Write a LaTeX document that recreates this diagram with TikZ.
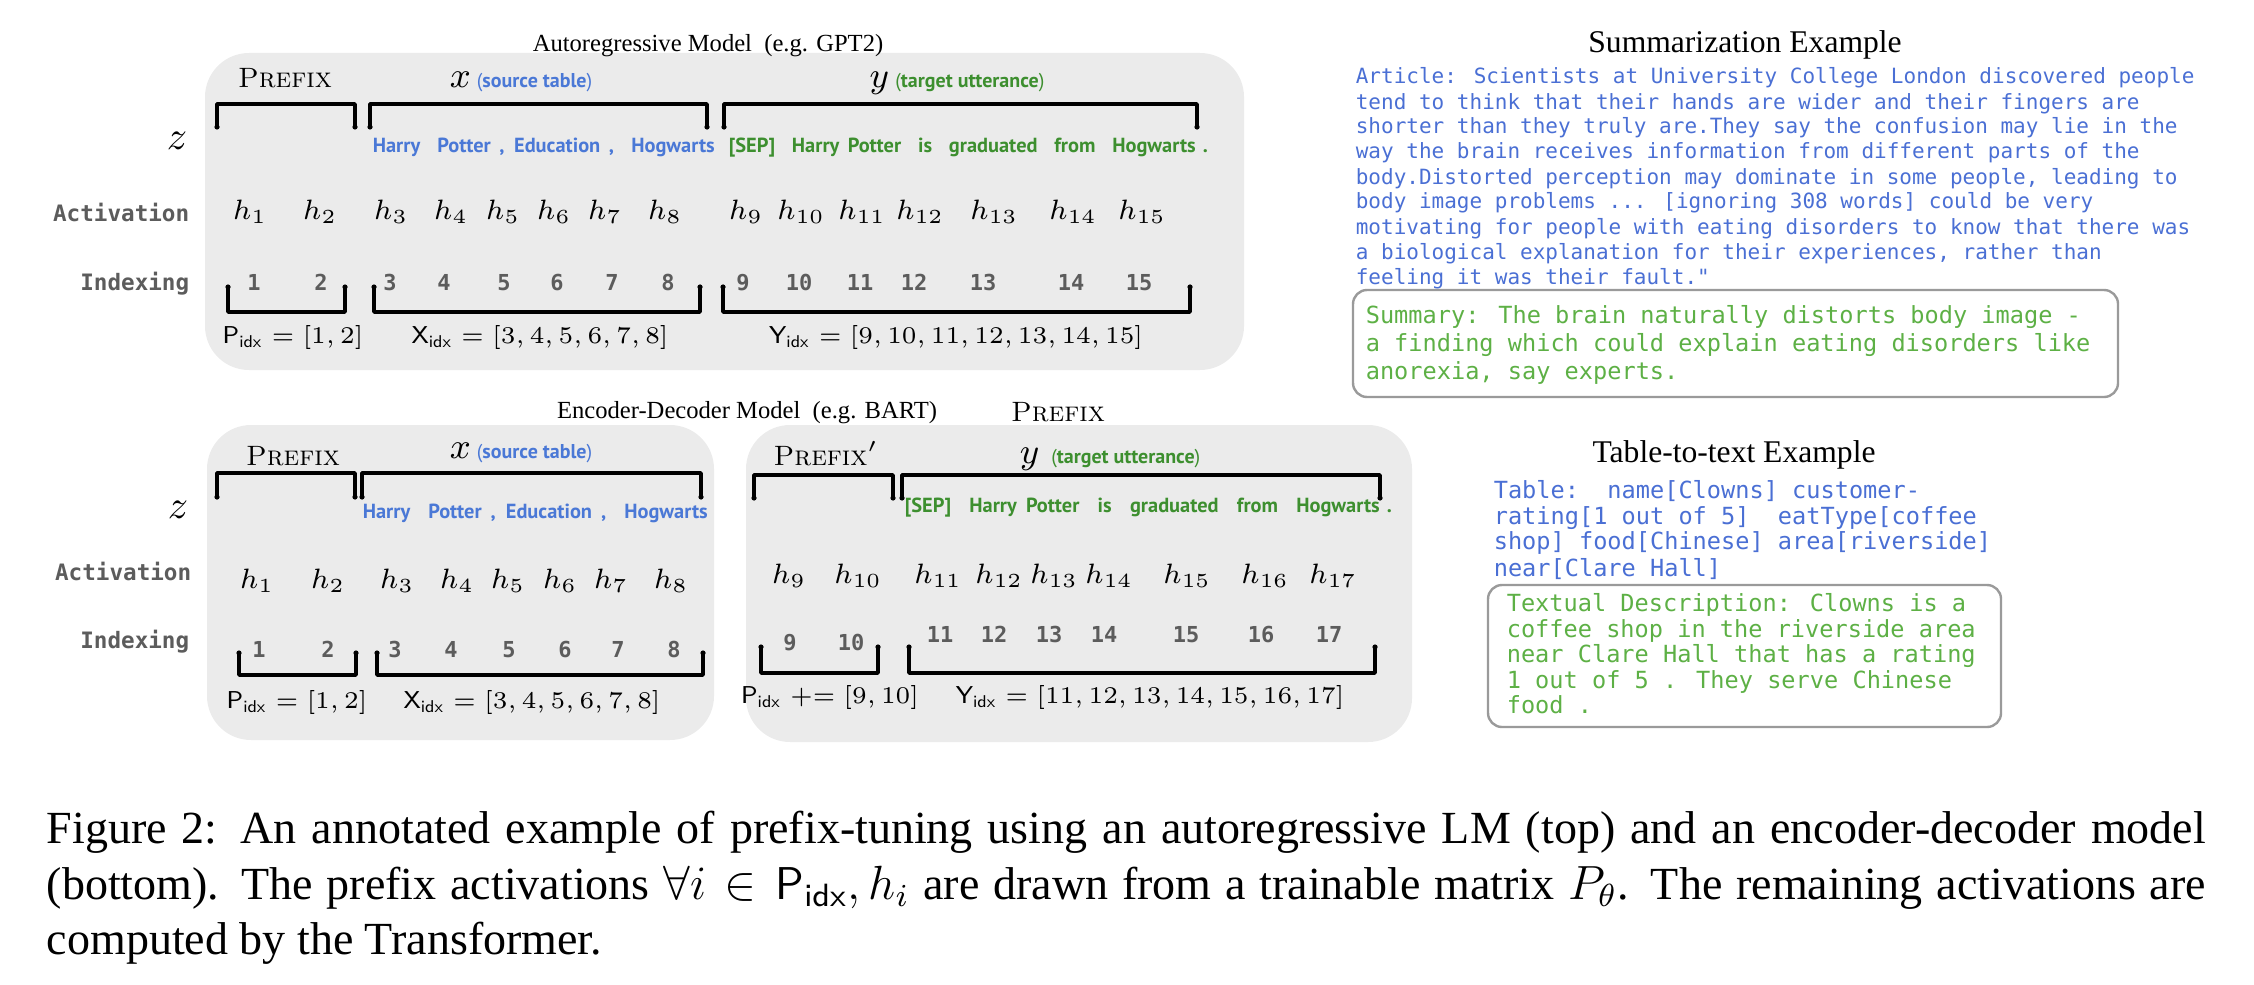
\documentclass[tikz,border=0pt]{standalone}
\usepackage{fontspec}
\newfontfamily\capfont{Liberation Serif}
\newfontfamily\exmono{DejaVu Sans Mono}
\newfontfamily\tokfont{PT Sans}
\newdimen\PX \PX=0.25pt
\definecolor{panelgray}{HTML}{EBEBEB}
\definecolor{tokblue}{HTML}{4A78D6}
\definecolor{tokgreen}{HTML}{3D8F2F}
\definecolor{exblue}{HTML}{4A6FD4}
\definecolor{exgreen}{HTML}{5DB045}
\definecolor{labgray}{HTML}{5C5C5C}
\definecolor{boxgray}{HTML}{9A9A9A}
\newcommand\annot[2]{{\tokfont\fontsize{5}{6}\selectfont\color{#2}(\textbf{#1})}}
\newcommand\brkdown[4]{\draw[brk] (#1,#4) -- (#1,#3) -- (#2,#3) -- (#2,#4);
  \fill (#1,#4) circle[radius=0.65pt] (#2,#4) circle[radius=0.65pt];}
\newcommand\brkup[4]{\draw[brk] (#1,#3) -- (#1,#4) -- (#2,#4) -- (#2,#3);
  \fill (#1,#3) circle[radius=0.65pt] (#2,#3) circle[radius=0.65pt];}
\begin{document}
\begin{tikzpicture}[x=0.25pt,y=-0.25pt,
  panel/.style={fill=panelgray,draw=none,rounded corners=11pt},
  brk/.style={line width=0.9pt,line cap=round,line join=round},
  title/.style={anchor=base,inner sep=0pt,font=\capfont\fontsize{6.15}{7}\selectfont},
  extitle/.style={anchor=base,inner sep=0pt,font=\capfont\fontsize{7.9}{9}\selectfont},
  pfx/.style={anchor=base,inner sep=0pt,font=\fontsize{7}{8}\selectfont},
  seglab/.style={anchor=base,inner sep=0pt,font=\fontsize{9.25}{10}\selectfont},
  zlab/.style={anchor=base,inner sep=0pt,font=\fontsize{10}{12}\selectfont},
  rowlab/.style={anchor=base east,inner sep=0pt,text=labgray,font=\exmono\bfseries\fontsize{5.65}{6}\selectfont},
  hnode/.style={anchor=base,inner sep=0pt,font=\fontsize{7}{8}\selectfont},
  idx/.style={anchor=base,inner sep=0pt,text=labgray,font=\exmono\bfseries\fontsize{5.5}{6}\selectfont},
  idxlab/.style={anchor=base,inner sep=0pt,font=\fontsize{6.1}{7}\selectfont},
  tokx/.style={anchor=base west,inner sep=0pt,text=tokblue,font=\tokfont\bfseries\fontsize{5.1}{6}\selectfont},
  toky/.style={tokx,text=tokgreen},
  exline/.style={anchor=base west,inner sep=0pt,text=exblue,font=\exmono\fontsize{5.25}{6}\selectfont},
  exline2/.style={anchor=base west,inner sep=0pt,text=exblue,font=\exmono\fontsize{5.9}{7}\selectfont},
  exout/.style={exline2,text=exgreen},
  exbox/.style={draw=boxgray,line width=0.6pt,rounded corners=3.5pt},
  captext/.style={anchor=base west,inner sep=0pt,font=\capfont\fontsize{11.5}{14}\selectfont}
]
\useasboundingbox (0,0) rectangle (2254,984);

% ---------- panels ----------
\path[panel] (205,53) rectangle (1244,370);
\path[panel] (207,425) rectangle (714,740);
\path[panel] (746,425) rectangle (1412,742);

% ---------- top: autoregressive ----------
\node[title] (titA) at (708,52) {Autoregressive Model\ \ (e.g. GPT2)};
\node[pfx] (pfxA) at (285,88) {\textsc{Prefix}};
\node[seglab] (xlabA) at (521,88) {$x$\,\annot{source table}{tokblue}};
\node[seglab] (ylabA) at (957,88) {$y$\,\annot{target utterance}{tokgreen}};
\brkdown{217}{355}{104}{127}
\brkdown{370}{707}{104}{127}
\brkdown{724}{1197}{104}{127}
\node[zlab] (zA) at (177,150) {$z$};
\node[tokx] (tokxA) at (372,152) {\makebox[342\PX][s]{Harry\ \ Potter , Education ,\ \ Hogwarts}};
\node[toky] (tokyA) at (728,152) {\makebox[467\PX][s]{[SEP]\ \ Harry Potter\ \ is\ \ graduated\ \ from\ \ Hogwarts}};
\node[toky] (dotA) at (1202,152) {.};
\node[rowlab] (actA) at (190,222) {Activation};
\node[rowlab] (indA) at (190,290) {Indexing};
\foreach \i/\x in {1/250,2/320,3/391,4/451,5/503,6/554,7/605,8/665,9/746,10/801,11/862,12/920,13/994,14/1073,15/1142}
  \node[hnode] (hA\i) at (\x,220) {$h_{\i}$};
\foreach \i/\x in {1/254,2/321,3/390,4/444,5/504,6/557,7/612,8/668,9/743,10/799,11/860,12/914,13/983,14/1071,15/1139}
  \node[idx] (iA\i) at (\x,290) {\i};
\brkup{228}{345}{287}{312}
\brkup{374}{700}{287}{312}
\brkup{723}{1190}{287}{312}
\node[idxlab] (pA) at (293,343) {$\mathsf{P}_{\mathsf{idx}}=[1,2]$};
\node[idxlab] (xA) at (540,343) {$\mathsf{X}_{\mathsf{idx}}=[3,4,5,6,7,8]$};
\node[idxlab] (yA) at (956,343) {$\mathsf{Y}_{\mathsf{idx}}=[9,10,11,12,13,14,15]$};

% ---------- bottom: encoder-decoder ----------
\node[title] (titB) at (747,418) {Encoder-Decoder Model\ \ (e.g. BART)};
\node[pfx] (pfxC) at (1058,421) {\textsc{Prefix}};
\node[pfx] (pfxB) at (293,465) {\textsc{Prefix}};
\node[pfx] (pfxD) at (826,465) {\textsc{Prefix}$'$};
\node[seglab] (xlabB) at (521,458) {$x$\,\annot{source table}{tokblue}};
\node[seglab] (ylabB) at (1110,463) {$y$\hspace{3pt}\annot{target utterance}{tokgreen}};
\brkdown{217}{355}{473}{497}
\brkdown{362}{701}{473}{497}
\brkdown{754}{893}{475}{498}
\brkdown{902}{1380}{475}{498}
\node[zlab] (zB) at (178,518) {$z$};
\node[tokx] (tokxB) at (362,518) {\makebox[345\PX][s]{Harry\ \ Potter , Education ,\ \ Hogwarts}};
\node[toky] (tokyB) at (904,512) {\makebox[475\PX][s]{[SEP]\ \ Harry Potter\ \ is\ \ graduated\ \ from\ \ Hogwarts}};
\node[toky] (dotB) at (1386,512) {.};
\node[rowlab] (actB) at (192,580) {Activation};
\node[rowlab] (indB) at (190,648) {Indexing};
\foreach \i/\x in {1/257,2/328,3/397,4/457,5/508,6/560,7/611,8/671}
  \node[hnode] (hB\i) at (\x,588) {$h_{\i}$};
\foreach \i/\x in {9/789,10/858,11/938,12/999,13/1054,14/1109,15/1187,16/1265,17/1333}
  \node[hnode] (hC\i) at (\x,583) {$h_{\i}$};
\foreach \i/\x in {1/259,2/328,3/395,4/451,5/509,6/565,7/618,8/674}
  \node[idx] (iB\i) at (\x,657) {\i};
\foreach \i/\x in {9/790,10/851}
  \node[idx] (iC\i) at (\x,650) {\i};
\foreach \i/\x in {11/940,12/994,13/1049,14/1104,15/1186,16/1261,17/1329}
  \node[idx] (iC\i) at (\x,642) {\i};
\brkup{239}{356}{653}{675}
\brkup{377}{703}{653}{675}
\brkup{761}{878}{647}{673}
\brkup{909}{1375}{647}{673}
\node[idxlab] (pB) at (297,708) {$\mathsf{P}_{\mathsf{idx}}=[1,2]$};
\node[idxlab] (xB) at (532,708) {$\mathsf{X}_{\mathsf{idx}}=[3,4,5,6,7,8]$};
\node[idxlab] (pC) at (830,703) {$\mathsf{P}_{\mathsf{idx}}\mathrel{+}=[9,10]$};
\node[idxlab] (yC) at (1150,703) {$\mathsf{Y}_{\mathsf{idx}}=[11,12,13,14,15,16,17]$};

% ---------- summarization example ----------
\node[extitle] (titS) at (1745,53) {Summarization Example};
\node[exline] (a1) at (1355,84) {Article: Scientists at University College London discovered people};
\node[exline] (a2) at (1355,109) {tend to think that their hands are wider and their fingers are};
\node[exline] (a3) at (1355,134) {shorter than they truly are.They say the confusion may lie in the};
\node[exline] (a4) at (1355,159) {way the brain receives information from different parts of the};
\node[exline] (a5) at (1355,184) {body.Distorted perception may dominate in some people, leading to};
\node[exline] (a6) at (1355,209) {body image problems ... [ignoring 308 words] could be very};
\node[exline] (a7) at (1355,234) {motivating for people with eating disorders to know that there was};
\node[exline] (a8) at (1355,259) {a biological explanation for their experiences, rather than};
\node[exline] (a9) at (1355,284) {feeling it was their fault."};
\draw[exbox] (1353,290) rectangle (2118,397);
\node[exout] (s1) at (1365,323) {Summary: The brain naturally distorts body image -};
\node[exout] (s2) at (1365,351) {a finding which could explain eating disorders like};
\node[exout] (s3) at (1365,379) {anorexia, say experts.};

% ---------- table-to-text example ----------
\node[extitle] (titT) at (1734,462) {Table-to-text Example};
\node[exline2] (t1) at (1493,498) {Table:\ \ name[Clowns] customer-};
\node[exline2] (t2) at (1493,524) {rating[1 out of 5]\ \ eatType[coffee};
\node[exline2] (t3) at (1493,549) {shop] food[Chinese] area[riverside]};
\node[exline2] (t4) at (1493,576) {near[Clare Hall]};
\draw[exbox] (1488,585) rectangle (2001,727);
\node[exout] (d1) at (1506,611) {Textual Description: Clowns is a};
\node[exout] (d2) at (1506,637) {coffee shop in the riverside area};
\node[exout] (d3) at (1506,662) {near Clare Hall that has a rating};
\node[exout] (d4) at (1506,688) {1 out of 5 . They serve Chinese};
\node[exout] (d5) at (1506,713) {food .};

% ---------- caption ----------
\node[captext] (cap1) at (46,843) {\makebox[2159\PX][s]{Figure 2:\hspace{0.5em}An annotated example of prefix-tuning using an autoregressive LM (top) and an encoder-decoder model}};
\node[captext] (cap2) at (46,899) {\makebox[2159\PX][s]{(bottom). The prefix activations $\forall i \in \mathsf{P}_{\mathsf{idx}}, h_i$ are drawn from a trainable matrix $P_\theta$. The remaining activations are}};
\node[captext] (cap3) at (46,954) {computed by the Transformer.};
\end{tikzpicture}
\end{document}
